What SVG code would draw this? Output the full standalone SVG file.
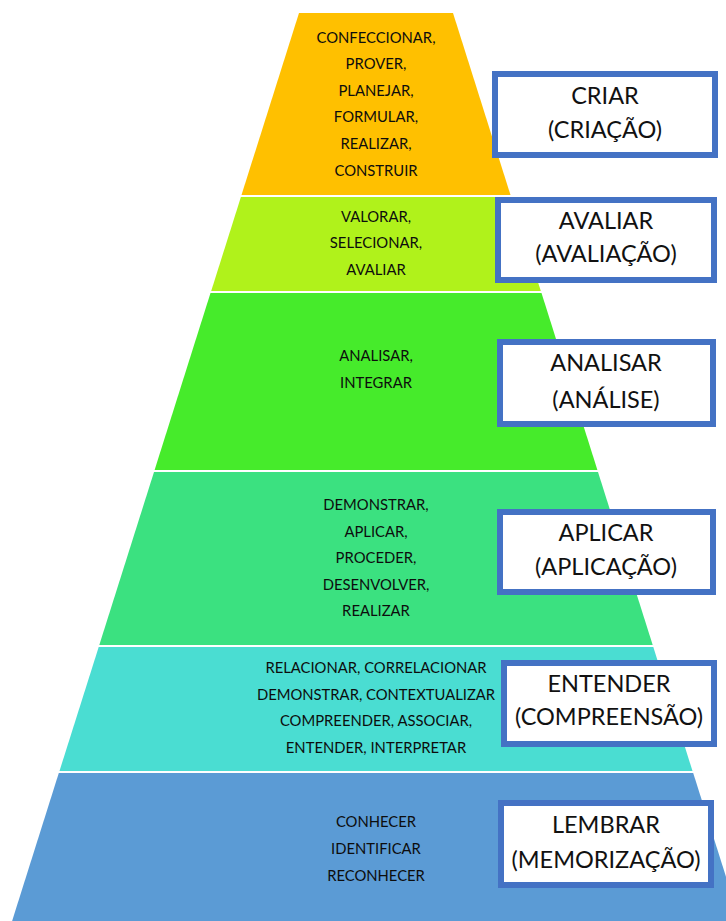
<svg xmlns="http://www.w3.org/2000/svg" width="726" height="921" viewBox="0 0 726 921">
<style>
.verb{font-family:Lato,"Open Sans","Liberation Sans",sans-serif;font-size:14.8px;fill:#0d0d0d;text-anchor:middle}
.lbl{font-family:Lato,"Open Sans","Liberation Sans",sans-serif;font-size:23.5px;fill:#111;text-anchor:middle}
.box{fill:#fff;stroke:#4472C4;stroke-width:6}
</style>
<rect width="726" height="921" fill="#fff"/>
<g id="level-criar">
<polygon points="299,13 453,13 510.5,195 241.5,195" fill="#FFC000"/>
<text class="verb" x="376" y="43">CONFECCIONAR,</text>
<text class="verb" x="376" y="69">PROVER,</text>
<text class="verb" x="376" y="96">PLANEJAR,</text>
<text class="verb" x="376" y="122">FORMULAR,</text>
<text class="verb" x="376" y="149">REALIZAR,</text>
<text class="verb" x="376" y="176">CONSTRUIR</text>
</g>
<g id="level-avaliar">
<polygon points="240.9,197 511.1,197 540.8,291 211.2,291" fill="#B0F21B"/>
<text class="verb" x="376" y="222">VALORAR,</text>
<text class="verb" x="376" y="248">SELECIONAR,</text>
<text class="verb" x="376" y="275">AVALIAR</text>
</g>
<g id="level-analisar">
<polygon points="210.5,293 541.5,293 597.4,470 154.6,470" fill="#46EB2B"/>
<text class="verb" x="376" y="361">ANALISAR,</text>
<text class="verb" x="376" y="388">INTEGRAR</text>
</g>
<g id="level-aplicar">
<polygon points="154,472 598,472 652.7,645 99.3,645" fill="#3BE180"/>
<text class="verb" x="376" y="510">DEMONSTRAR,</text>
<text class="verb" x="376" y="537">APLICAR,</text>
<text class="verb" x="376" y="563">PROCEDER,</text>
<text class="verb" x="376" y="590">DESENVOLVER,</text>
<text class="verb" x="376" y="616">REALIZAR</text>
</g>
<g id="level-entender">
<polygon points="98.7,647 653.3,647 692.5,771 59.5,771" fill="#4ADDD2"/>
<text class="verb" x="376" y="673">RELACIONAR, CORRELACIONAR</text>
<text class="verb" x="376" y="700">DEMONSTRAR, CONTEXTUALIZAR</text>
<text class="verb" x="376" y="726">COMPREENDER, ASSOCIAR,</text>
<text class="verb" x="376" y="753">ENTENDER, INTERPRETAR</text>
</g>
<g id="level-lembrar">
<polygon points="58.8,773 693.2,773 740,921 12.1,921" fill="#5B9BD5"/>
<text class="verb" x="376" y="827">CONHECER</text>
<text class="verb" x="376" y="854">IDENTIFICAR</text>
<text class="verb" x="376" y="881">RECONHECER</text>
</g>
<g id="box-criar">
<rect class="box" x="495" y="74" width="220" height="81"/>
<text class="lbl" x="605" y="104">CRIAR</text>
<text class="lbl" x="605" y="138">(CRIAÇÃO)</text>
</g>
<g id="box-avaliar">
<rect class="box" x="498" y="200" width="216" height="80"/>
<text class="lbl" x="606" y="229">AVALIAR</text>
<text class="lbl" x="606" y="262">(AVALIAÇÃO)</text>
</g>
<g id="box-analisar">
<rect class="box" x="500" y="342" width="213" height="82"/>
<text class="lbl" x="606" y="371">ANALISAR</text>
<text class="lbl" x="606" y="408">(ANÁLISE)</text>
</g>
<g id="box-aplicar">
<rect class="box" x="500" y="512" width="213" height="80"/>
<text class="lbl" x="606" y="541">APLICAR</text>
<text class="lbl" x="606" y="575">(APLICAÇÃO)</text>
</g>
<g id="box-entender">
<rect class="box" x="504" y="663" width="210" height="81"/>
<text class="lbl" x="609" y="692">ENTENDER</text>
<text class="lbl" x="609" y="725">(COMPREENSÃO)</text>
</g>
<g id="box-lembrar">
<rect class="box" x="501" y="803" width="210" height="82"/>
<text class="lbl" x="606" y="833">LEMBRAR</text>
<text class="lbl" x="606" y="868">(MEMORIZAÇÃO)</text>
</g>
<g id="connectors"/>
</svg>
